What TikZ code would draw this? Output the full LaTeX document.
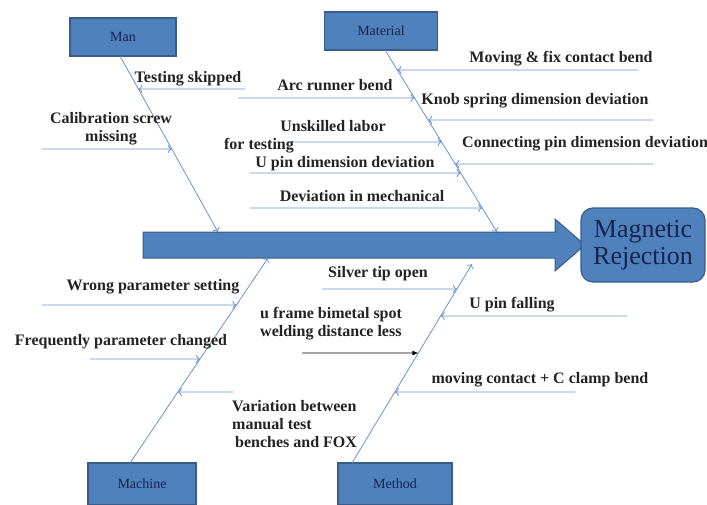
\documentclass[tikz,border=0pt]{standalone}
\usepackage{fontspec}
\setmainfont{Liberation Serif}
\usetikzlibrary{arrows.meta}
\definecolor{boxblue}{RGB}{79,129,189}
\definecolor{boxedge}{RGB}{56,93,138}
\definecolor{lineblue}{RGB}{105,148,205}
\definecolor{navy}{RGB}{22,36,78}
\definecolor{ink}{RGB}{35,35,35}
\tikzset{
  catbox/.style={draw=boxedge,fill=boxblue,line width=1.2pt,minimum height=38pt,
    inner sep=0pt,text=navy,font=\fontsize{14}{16}\selectfont},
  cause/.style={inner sep=0pt,text=ink,font=\bfseries\fontsize{16}{18}\selectfont},
  bone/.style={draw=lineblue,line width=0.8pt,->},
  twig/.style={draw=lineblue,line width=0.8pt,->}
}
\begin{document}
\begin{tikzpicture}[x=1pt,y=-1pt,>={To[length=4pt,width=8pt]}]
\useasboundingbox (0,0) rectangle (707,504);
% spine and effect
\draw[draw=boxedge,fill=boxblue,line width=1pt] (143,232) -- (555,232) -- (555,219) -- (585,245) -- (555,271) -- (555,258) -- (143,258) -- cycle;
\node[catbox,rounded corners=12pt,minimum width=124pt,minimum height=74pt,align=center,font=\fontsize{26}{27}\selectfont] (effect) at (643,245) {Magnetic\\Rejection};
% categories
\node[catbox,minimum width=106pt] (man) at (123,37) {Man};
\node[catbox,minimum width=113pt] (material) at (381,31) {Material};
\node[catbox,minimum width=108pt,minimum height=42pt] (machine) at (142,484) {Machine};
\node[catbox,minimum width=114pt,minimum height=42pt] (method) at (395,484) {Method};
% bones
\coordinate (manT) at (120,56); \coordinate (manB) at (218,232);
\coordinate (matT) at (385,50); \coordinate (matB) at (497,232);
\coordinate (macB) at (130,463); \coordinate (macT) at (268,258);
\coordinate (metB) at (352,463); \coordinate (metT) at (472,264);
\draw[bone] (manT) -- (manB);
\draw[bone] (matT) -- (matB);
\draw[bone] (macB) -- (macT);
\draw[bone] (metB) -- (metT);
% twigs
\foreach \y/\x in {89/245,149/42}{
  \coordinate (a\y) at (\x,\y);
  \draw[twig] (a\y) -- (intersection of manT--manB and 0,\y--1,\y);
}
\foreach \y/\x in {70/638,98/238,120/653,142/287,164/653,173/250,208/250}{
  \coordinate (b\y) at (\x,\y);
  \draw[twig] (b\y) -- (intersection of matT--matB and 0,\y--1,\y);
}
\foreach \y/\x in {305/42,359/90,392/233}{
  \coordinate (c\y) at (\x,\y);
  \draw[twig] (c\y) -- (intersection of macB--macT and 0,\y--1,\y);
}
\foreach \y/\x in {289/322,316/627,392/575}{
  \coordinate (d\y) at (\x,\y);
  \draw[twig] (d\y) -- (intersection of metB--metT and 0,\y--1,\y);
}
\coordinate (d353) at (302,353);
\draw[-{Latex[length=6pt,width=5pt]},line width=0.8pt] (d353) -- (intersection of metB--metT and 0,353--1,353);
% causes
\node[cause,anchor=base] (skipped) at (188,82) {Testing skipped};
\node[cause,anchor=north,align=center] (screw) at (111,112) {Calibration screw\\missing};
\node[cause,anchor=base] (arc) at (335,90) {Arc runner bend};
\node[cause,anchor=base] (unskilled) at (333,131) {Unskilled labor};
\node[cause,anchor=base] (fortest) at (259,149) {for testing};
\node[cause,anchor=base] (upindim) at (345,167) {U pin dimension deviation};
\node[cause,anchor=base] (mech) at (362,201) {Deviation in mechanical};
\node[cause,anchor=base] (fixbend) at (561,62) {Moving \& fix contact bend};
\node[cause,anchor=base] (knob) at (535,104) {Knob spring dimension deviation};
\node[cause,anchor=base west] (conpin) at (462,147) {Connecting pin dimension deviation};
\node[cause,anchor=base] (wrong) at (153,290) {Wrong parameter setting};
\node[cause,anchor=base] (changed) at (121,345) {Frequently parameter changed};
\node[cause,anchor=north west,align=left] (variation) at (232,400) {Variation between\\manual test\\\hspace*{3pt}benches and FOX};
\node[cause,anchor=base] (silver) at (378,277) {Silver tip open};
\node[cause,anchor=north west,align=left] (uframe) at (260,307) {u frame bimetal spot\\welding distance less};
\node[cause,anchor=base] (falling) at (512,308) {U pin falling};
\node[cause,anchor=base] (clamp) at (540,383) {moving contact + C clamp bend};
\end{tikzpicture}
\end{document}
